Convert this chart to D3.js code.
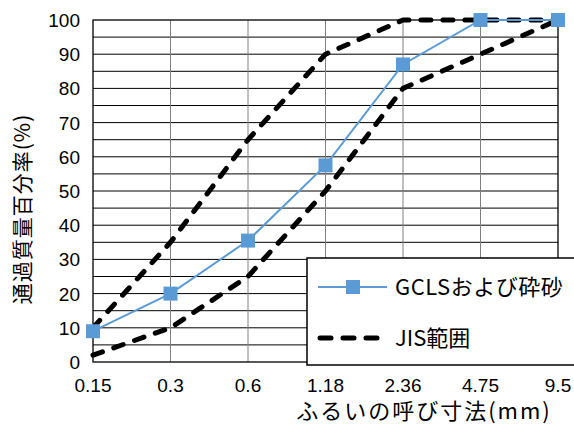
<!DOCTYPE html>
<html>
<head>
<meta charset="utf-8">
<script src="https://cdn.jsdelivr.net/npm/d3@7"></script>
<style>
  body { margin: 0; background: #fff; }
  text { font-family: "Liberation Sans", "Noto Sans CJK JP", sans-serif; fill: #000; }
  .jp { font-family: "Noto Sans CJK JP", sans-serif; }
</style>
</head>
<body>
<div id="chart"></div>
<script>
const sieves = ['0.15', '0.3', '0.6', '1.18', '2.36', '4.75', '9.5'];
const gcls = [9, 20, 35.5, 57.5, 87, 100, 100];
const jisUpper = [10, 35, 65, 90, 100, 100, 100];
const jisLower = [2, 10, 25, 50, 80, 90, 100];
const yTicks = [0, 10, 20, 30, 40, 50, 60, 70, 80, 90, 100];

const width = 574, height = 428;
const plotL = 93, plotR = 558, plotT = 20, plotB = 362;

const svg = d3.select('#chart').append('svg')
  .attr('width', width).attr('height', height);

const x = d3.scalePoint().domain(sieves).range([plotL, plotR]);
const y = d3.scaleLinear().domain([0, 100]).range([plotB, plotT]);

// horizontal gridlines every 5
svg.append('g').selectAll('line')
  .data(d3.range(5, 100, 5))
  .enter().append('line')
  .attr('x1', plotL).attr('x2', plotR)
  .attr('y1', d => y(d)).attr('y2', d => y(d))
  .attr('stroke', '#000').attr('stroke-width', 1);

// vertical gridlines
svg.append('g').selectAll('line')
  .data(sieves.slice(1, -1))
  .enter().append('line')
  .attr('x1', d => x(d)).attr('x2', d => x(d))
  .attr('y1', plotT).attr('y2', plotB)
  .attr('stroke', '#808080').attr('stroke-width', 1);

// frame
svg.append('rect')
  .attr('x', plotL).attr('y', plotT)
  .attr('width', plotR - plotL).attr('height', plotB - plotT)
  .attr('fill', 'none').attr('stroke', '#000').attr('stroke-width', 1.3);

// y tick labels
svg.append('g').selectAll('text')
  .data(yTicks)
  .enter().append('text')
  .attr('x', 80).attr('y', d => y(d) + 7)
  .attr('text-anchor', 'end')
  .attr('font-size', 19)
  .text(d => d);

// x tick labels
svg.append('g').selectAll('text')
  .data(sieves)
  .enter().append('text')
  .attr('x', d => x(d)).attr('y', 392)
  .attr('text-anchor', 'middle')
  .attr('font-size', 19)
  .text(d => d);

// axis titles
svg.append('text')
  .attr('class', 'jp')
  .attr('transform', 'translate(30,209) rotate(-90)')
  .attr('text-anchor', 'middle')
  .attr('font-size', 21)
  .attr('letter-spacing', 1)
  .text('通過質量百分率(%)');

svg.append('text')
  .attr('class', 'jp')
  .attr('x', 424).attr('y', 419)
  .attr('text-anchor', 'middle')
  .attr('font-size', 22)
  .attr('letter-spacing', 2)
  .text('ふるいの呼び寸法(mm)');

const line = d3.line().x((d, i) => x(sieves[i])).y(d => y(d));

// JIS range
[jisUpper, jisLower].forEach(s => {
  svg.append('path')
    .attr('d', line(s))
    .attr('fill', 'none')
    .attr('stroke', '#000')
    .attr('stroke-width', 5)
    .attr('stroke-linecap', 'round')
    .attr('stroke-linejoin', 'round')
    .attr('stroke-dasharray', '10,12');
});

// GCLS
const blue = '#5B9BD5';
svg.append('path')
  .attr('d', line(gcls))
  .attr('fill', 'none')
  .attr('stroke', blue)
  .attr('stroke-width', 2);

svg.append('g').selectAll('rect')
  .data(gcls)
  .enter().append('rect')
  .attr('x', (d, i) => x(sieves[i]) - 7)
  .attr('y', d => y(d) - 7)
  .attr('width', 14).attr('height', 14)
  .attr('fill', blue);

// legend
const lg = svg.append('g');
lg.append('rect')
  .attr('x', 307).attr('y', 258)
  .attr('width', 280).attr('height', 107)
  .attr('fill', '#fff').attr('stroke', '#000').attr('stroke-width', 1.5);

lg.append('line')
  .attr('x1', 318).attr('x2', 387).attr('y1', 287).attr('y2', 287)
  .attr('stroke', blue).attr('stroke-width', 2);
lg.append('rect')
  .attr('x', 346).attr('y', 280).attr('width', 14).attr('height', 14)
  .attr('fill', blue);
lg.append('text')
  .attr('class', 'jp')
  .attr('x', 395).attr('y', 295)
  .attr('font-size', 22)
  .attr('letter-spacing', 0.5)
  .text('GCLSおよび砕砂');

lg.append('line')
  .attr('x1', 320).attr('x2', 388).attr('y1', 338).attr('y2', 338)
  .attr('stroke', '#000').attr('stroke-width', 5)
  .attr('stroke-linecap', 'round')
  .attr('stroke-dasharray', '11,12');
lg.append('text')
  .attr('class', 'jp')
  .attr('x', 395).attr('y', 346)
  .attr('font-size', 22)
  .text('JIS範囲');
</script>
</body>
</html>
